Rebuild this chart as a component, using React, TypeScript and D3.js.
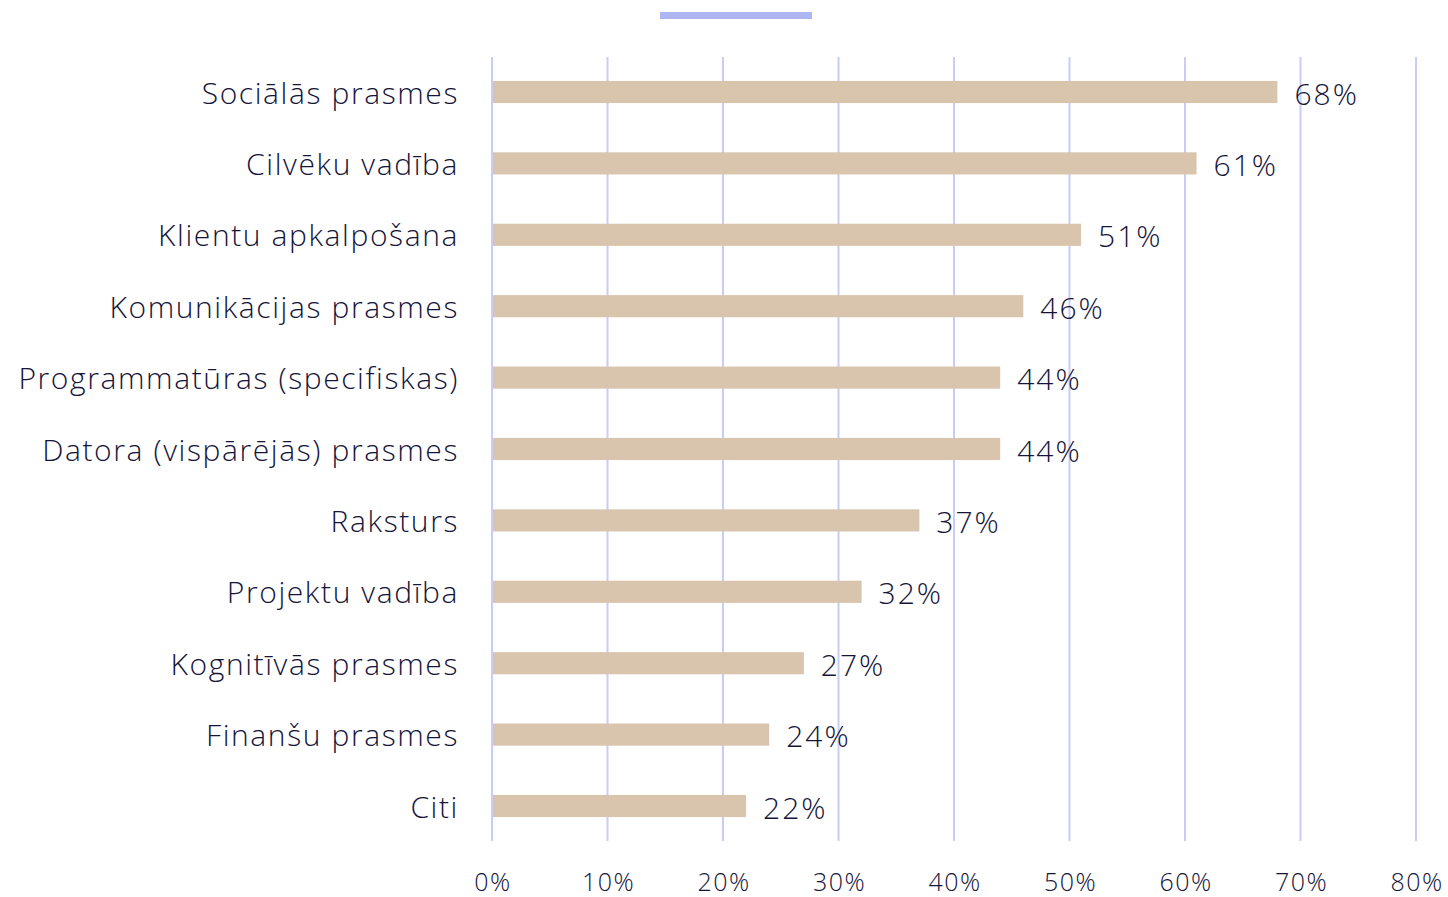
import React, { useRef, useEffect } from "react";
import * as d3 from "d3";

const categories = [
  "Sociālās prasmes",
  "Cilvēku vadība",
  "Klientu apkalpošana",
  "Komunikācijas prasmes",
  "Programmatūras (specifiskas)",
  "Datora (vispārējās) prasmes",
  "Raksturs",
  "Projektu vadība",
  "Kognitīvās prasmes",
  "Finanšu prasmes",
  "Citi",
];
const values = [68, 61, 51, 46, 44, 44, 37, 32, 27, 24, 22];
const ticks = [0, 10, 20, 30, 40, 50, 60, 70, 80];

const FONT = "'Open Sans', sans-serif";
const TEXT = "#15153a";

const App = () => {
  const svgRef = useRef<SVGSVGElement>(null);

  useEffect(() => {
    const svg = d3.select(svgRef.current);
    svg.selectAll("*").remove();

    const x = d3.scaleLinear().domain([0, 80]).range([492, 1416]);
    const y = d3
      .scaleBand()
      .domain(categories)
      .range([56.3, 841.7])
      .paddingInner(0.69)
      .paddingOuter(0.345);

    // legend swatch (no text)
    svg
      .append("rect")
      .attr("x", 660)
      .attr("y", 12)
      .attr("width", 152)
      .attr("height", 7)
      .attr("fill", "#aeb6f2");

    // gridlines
    svg
      .append("g")
      .selectAll("line")
      .data(ticks)
      .join("line")
      .attr("x1", (d) => x(d))
      .attr("x2", (d) => x(d))
      .attr("y1", 57)
      .attr("y2", 841)
      .attr("stroke", "#c9ccf4")
      .attr("stroke-width", 2);

    // bars
    svg
      .append("g")
      .selectAll("rect")
      .data(values)
      .join("rect")
      .attr("x", x(0) + 1)
      .attr("y", (d, i) => y(categories[i]))
      .attr("width", (d) => x(d) - x(0) - 1)
      .attr("height", y.bandwidth())
      .attr("fill", "#d9c4ad");

    // value labels
    svg
      .append("g")
      .selectAll("text")
      .data(values)
      .join("text")
      .attr("x", (d) => x(d) + 17)
      .attr("y", (d, i) => y(categories[i]) + y.bandwidth() / 2 + 1)
      .attr("dominant-baseline", "central")
      .attr("font-family", FONT)
      .attr("font-weight", 300)
      .attr("font-size", 30)
      .attr("letter-spacing", 2)
      .attr("fill", TEXT)
      .text((d) => `${d}%`);

    // category labels
    svg
      .append("g")
      .selectAll("text")
      .data(categories)
      .join("text")
      .attr("x", 459)
      .attr("y", (d) => y(d) + y.bandwidth() / 2)
      .attr("text-anchor", "end")
      .attr("dominant-baseline", "central")
      .attr("font-family", FONT)
      .attr("font-weight", 300)
      .attr("font-size", 30)
      .attr("letter-spacing", 1.6)
      .attr("fill", TEXT)
      .text((d) => d);

    // x tick labels
    svg
      .append("g")
      .selectAll("text")
      .data(ticks)
      .join("text")
      .attr("x", (d) => x(d) + 1)
      .attr("y", 881)
      .attr("text-anchor", "middle")
      .attr("dominant-baseline", "central")
      .attr("font-family", FONT)
      .attr("font-weight", 300)
      .attr("font-size", 25)
      .attr("letter-spacing", 1.5)
      .attr("fill", TEXT)
      .text((d) => `${d}%`);
  }, []);

  return (
    <svg
      ref={svgRef}
      width={1448}
      height={897}
      style={{ position: "absolute", left: 0, top: 0, background: "#fff" }}
    ></svg>
  );
};

export default App;
